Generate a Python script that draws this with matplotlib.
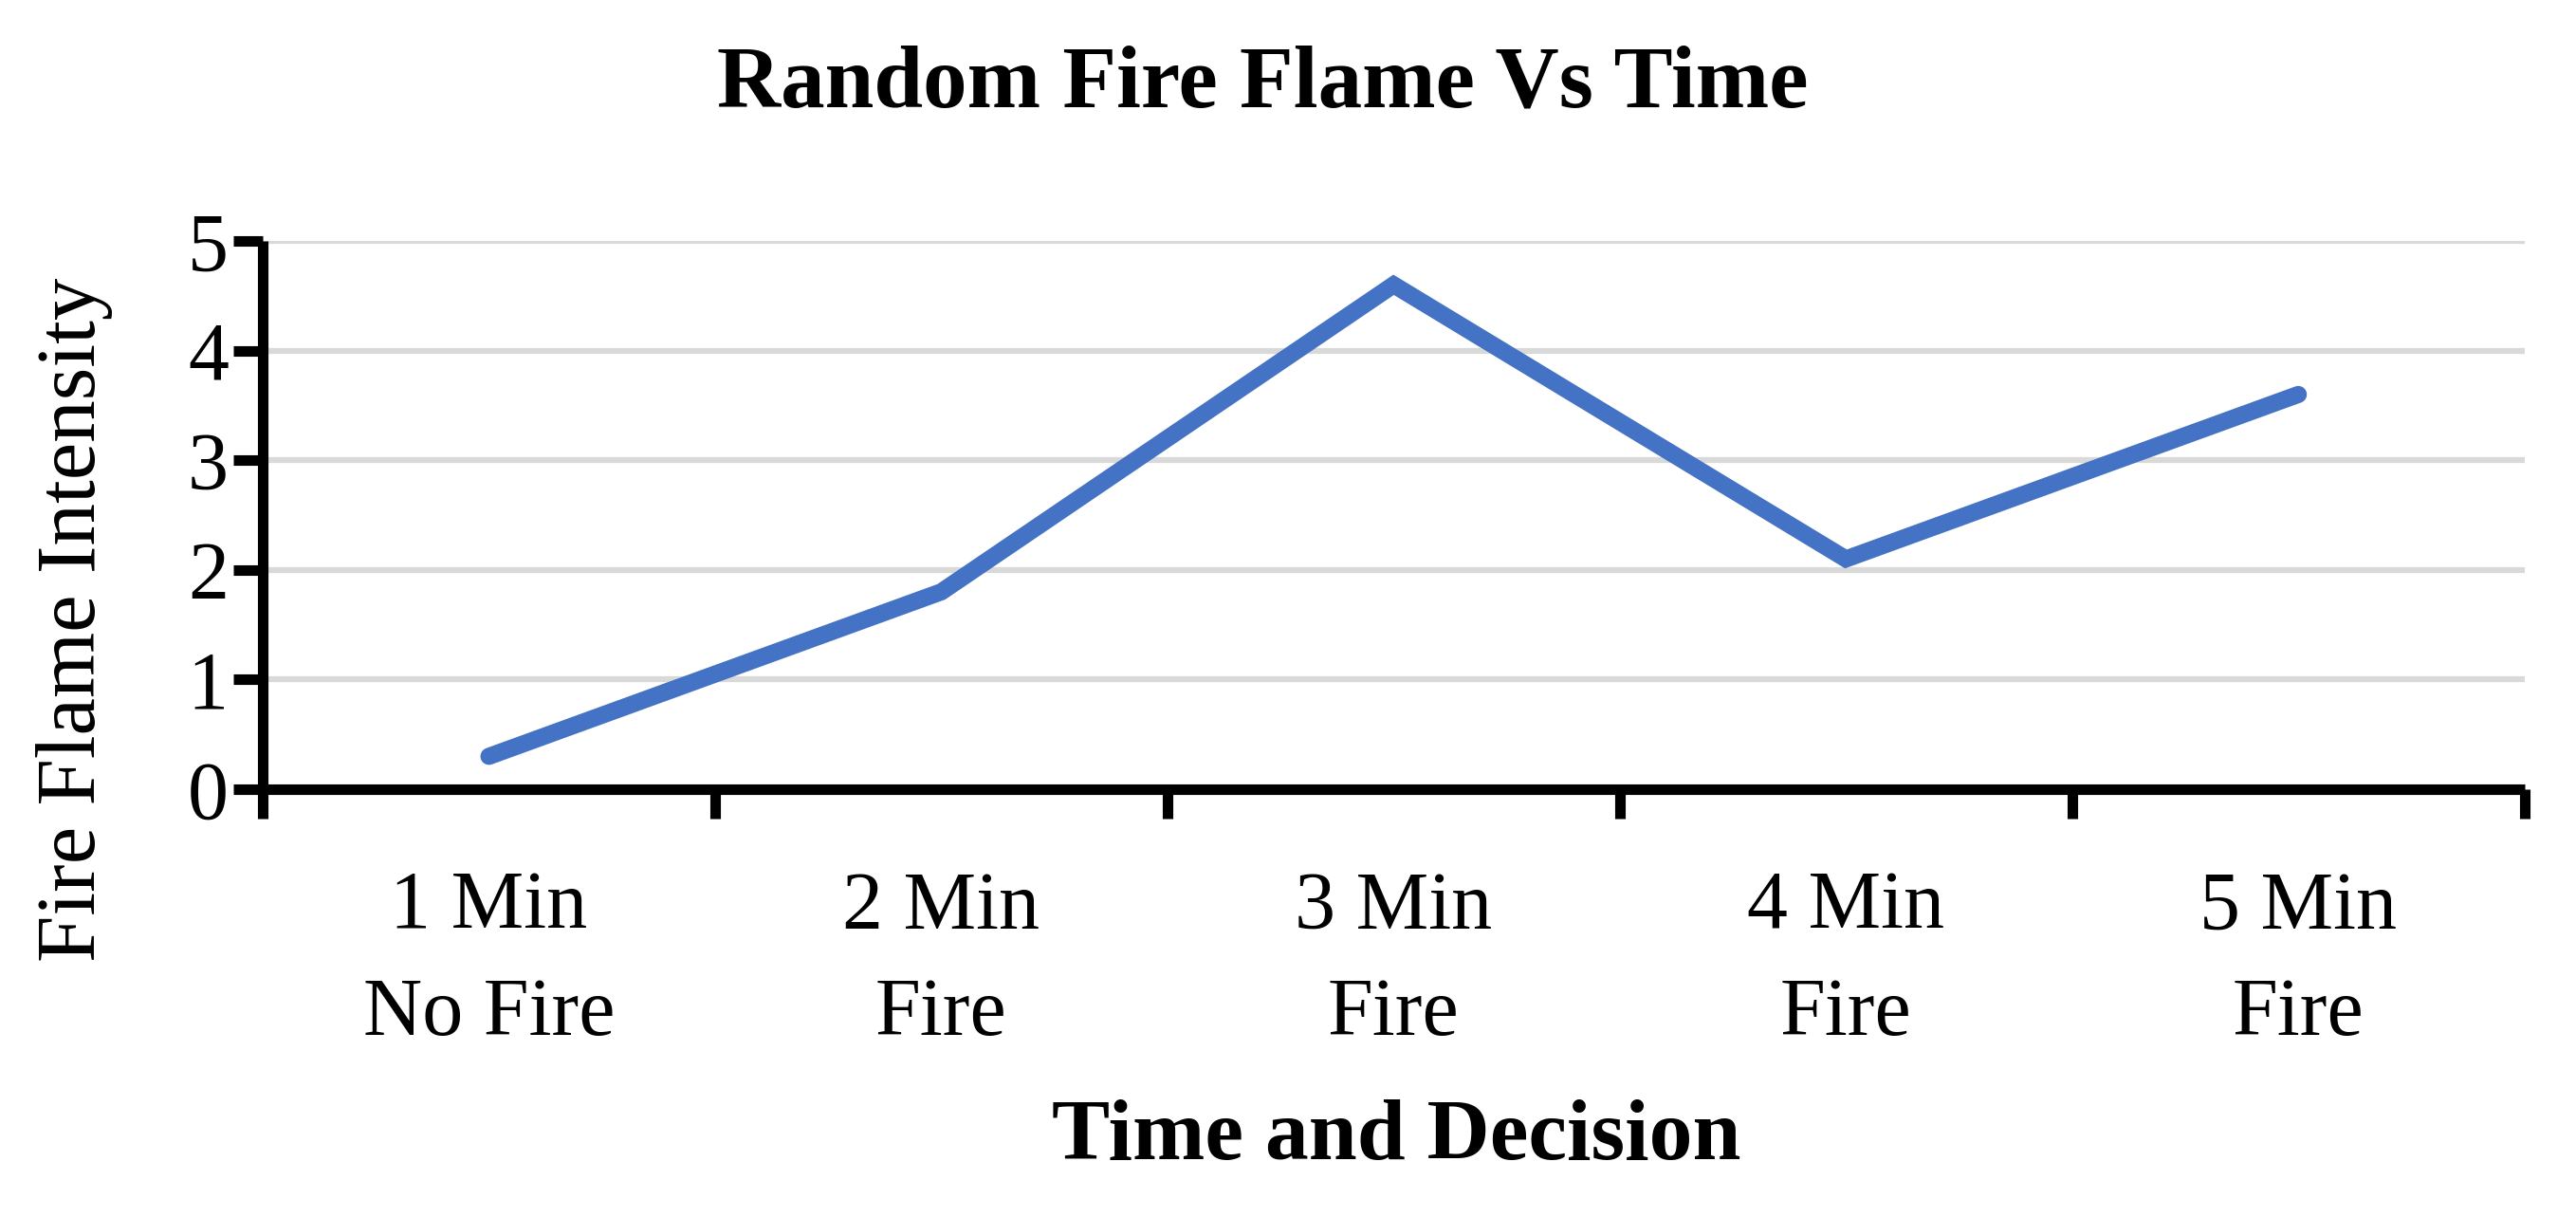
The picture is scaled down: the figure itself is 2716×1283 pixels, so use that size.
import matplotlib.pyplot as plt
import numpy as np

plt.rcParams['font.family'] = ['Liberation Serif', 'DejaVu Serif']

time_labels = ['1 Min', '2 Min', '3 Min', '4 Min', '5 Min']
decisions = ['No Fire', 'Fire', 'Fire', 'Fire', 'Fire']
intensity = [0.3, 1.8, 4.6, 2.1, 3.6]

line_color = '#4472C4'
grid_color = '#D9D9D9'

fig = plt.figure(figsize=(27.16, 12.83), dpi=100)
ax = fig.add_axes([0.102, 0.3515, 0.878, 0.4505])

x = np.arange(len(intensity))
ax.plot(x, intensity, color=line_color, linewidth=13, solid_capstyle='round',
        solid_joinstyle='miter', zorder=3)

ax.set_xlim(-0.5, len(intensity) - 0.5)
ax.set_ylim(0, 5)

# gridlines
ax.set_yticks(range(0, 6))
ax.yaxis.grid(True, color=grid_color, linewidth=4.5, zorder=0)
ax.set_axisbelow(True)

# spines
for side in ['top', 'right']:
    ax.spines[side].set_visible(False)
for side in ['left', 'bottom']:
    ax.spines[side].set_linewidth(8)
    ax.spines[side].set_capstyle('butt')

# category boundaries as major ticks, labels on minor ticks
ax.set_xticks(np.arange(-0.5, len(intensity), 1.0))
ax.set_xticklabels([])
ax.set_xticks(x, minor=True)
ax.set_xticklabels([f'{t}\n{d}' for t, d in zip(time_labels, decisions)],
                   minor=True, fontsize=62, linespacing=1.55)
ax.tick_params(axis='x', which='major', direction='out', length=22, width=8)
ax.tick_params(axis='x', which='minor', length=0, pad=62)
ax.tick_params(axis='y', direction='out', length=22, width=8, labelsize=62, pad=4)

fig.text(0.490, 0.930, 'Random Fire Flame Vs Time', ha='center', va='center',
         fontsize=67, fontweight='bold')
fig.text(0.542, 0.065, 'Time and Decision', ha='center', va='center',
         fontsize=66, fontweight='bold')
fig.text(0.029, 0.491, 'Fire Flame Intensity', ha='center', va='center',
         rotation=90, fontsize=64)

fig.savefig('out.png', dpi=100)
